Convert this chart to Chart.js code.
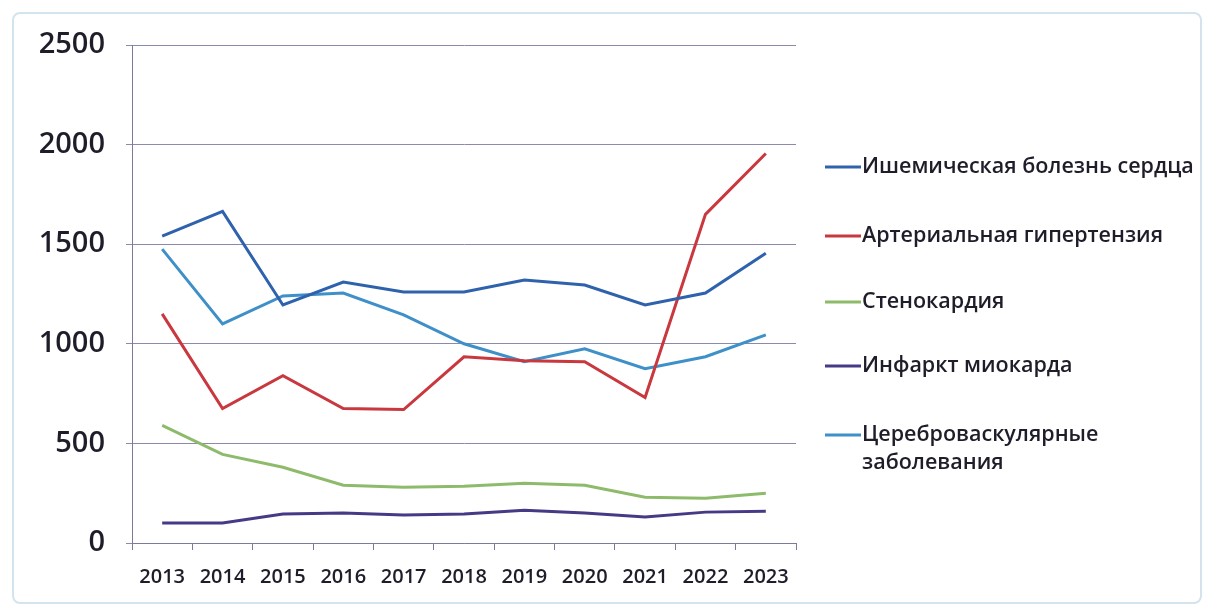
<!DOCTYPE html>
<html>
<head>
<meta charset="utf-8">
<script src="https://cdn.jsdelivr.net/npm/chart.js@4/dist/chart.umd.min.js"></script>
<style>
  html, body { margin: 0; padding: 0; background: #fff; }
  #wrap { position: relative; width: 1212px; height: 612px; }
  #frame { position: absolute; left: 12px; top: 12px; width: 1190px; height: 592px;
           border: 2px solid #d3e4ee; border-radius: 8px; box-sizing: border-box; }
  canvas { position: absolute; left: 0; top: 0; }
</style>
</head>
<body>
<div id="wrap">
  <div id="frame"></div>
  <canvas id="c" width="1212" height="612"></canvas>
</div>
<script>
const years = ['2013','2014','2015','2016','2017','2018','2019','2020','2021','2022','2023'];
const yTicks = [0, 500, 1000, 1500, 2000, 2500];

const ischemic      = [1540, 1665, 1195, 1310, 1260, 1260, 1320, 1295, 1195, 1255, 1455];
const hypertension  = [1150, 675, 840, 675, 670, 935, 915, 910, 730, 1650, 1955];
const angina        = [590, 445, 380, 290, 280, 285, 300, 290, 230, 225, 250];
const infarction    = [100, 100, 145, 150, 140, 145, 165, 150, 130, 155, 160];
const cerebro       = [1475, 1100, 1240, 1255, 1145, 1000, 910, 975, 875, 935, 1045];

const seriesNames = [
  ['Ишемическая болезнь сердца'],
  ['Артериальная гипертензия'],
  ['Стенокардия'],
  ['Инфаркт миокарда'],
  ['Цереброваскулярные', 'заболевания']
];
const seriesColors = ['#2f62ad', '#c9383f', '#8dbb6b', '#463a86', '#3f90c8'];
const seriesData = [ischemic, hypertension, angina, infarction, cerebro];

const FONT = '"Open Sans", Lato, sans-serif';

const legendPlugin = {
  id: 'sideLegend',
  afterDraw(chart) {
    const ctx = chart.ctx;
    const area = chart.chartArea;
    const x0 = area.right + 29;
    const rows = [167, 236, 302, 366, 435];
    ctx.save();
    ctx.font = '600 21.5px ' + FONT;
    ctx.textBaseline = 'middle';
    ctx.textAlign = 'left';
    chart.data.datasets.forEach((ds, i) => {
      const y = rows[i];
      ctx.strokeStyle = ds.borderColor;
      ctx.lineWidth = 3;
      ctx.beginPath();
      ctx.moveTo(x0, y);
      ctx.lineTo(x0 + 36, y);
      ctx.stroke();
      ctx.fillStyle = '#1e1e2a';
      const lines = seriesNames[i];
      lines.forEach((t, k) => ctx.fillText(t, x0 + 37, y + k * 28));
    });
    ctx.restore();
  }
};

new Chart(document.getElementById('c'), {
  type: 'line',
  data: {
    labels: years,
    datasets: seriesData.map((d, i) => ({
      label: seriesNames[i].join(' '),
      data: d,
      borderColor: seriesColors[i],
      backgroundColor: seriesColors[i],
      borderWidth: 3,
      pointRadius: 0,
      tension: 0,
      fill: false
    }))
  },
  options: {
    responsive: false,
    animation: false,
    devicePixelRatio: 1,
    layout: { padding: { left: 0, right: 416, top: 45, bottom: 0 } },
    plugins: { legend: { display: false }, tooltip: { enabled: false } },
    scales: {
      x: {
        offset: true,
        grid: { offset: true, drawOnChartArea: false, drawTicks: true, tickLength: 7, color: '#7a7a9c', lineWidth: 1 },
        border: { display: true, color: '#7a7a9c', width: 1 },
        ticks: { font: { family: FONT, size: 20, weight: '600' }, color: '#1e1e2a', padding: 15, maxRotation: 0, autoSkip: false },
        afterFit(scale) { scale.height = 69; }
      },
      y: {
        min: 0, max: 2500,
        afterBuildTicks(scale) { scale.ticks = yTicks.map(v => ({ value: v })); },
        grid: { drawTicks: true, tickLength: 6, color: '#8a8aaa', lineWidth: 1 },
        border: { display: true, color: '#7a7a9c', width: 1 },
        ticks: { font: { family: FONT, size: 29, weight: '600' }, color: '#1e1e2a', padding: 21,
                 callback: (v) => String(v) },
        afterFit(scale) { scale.width = 132; }
      }
    }
  },
  plugins: [legendPlugin]
});
</script>
</body>
</html>
